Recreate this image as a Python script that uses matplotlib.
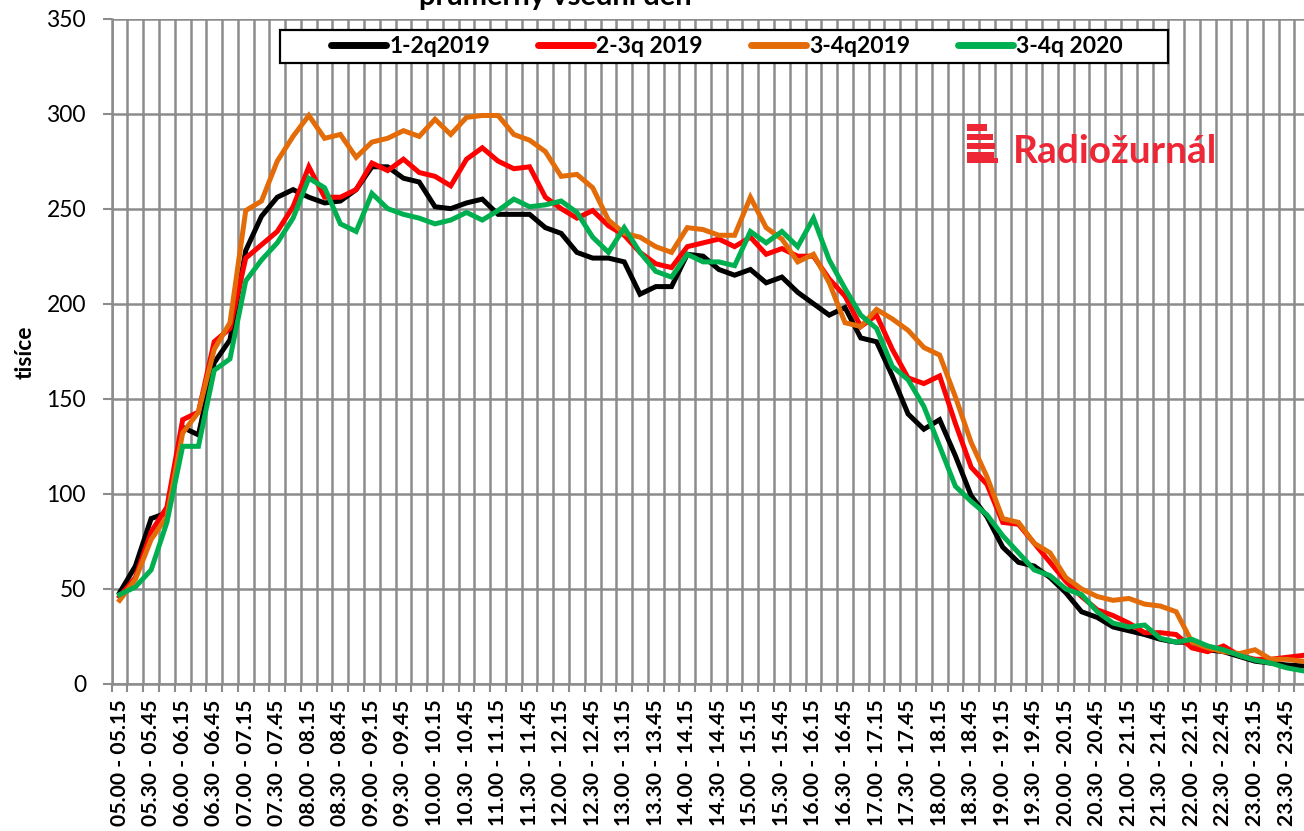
import numpy as np
import matplotlib
matplotlib.use("Agg")
import matplotlib.pyplot as plt
from matplotlib.patches import Rectangle

plt.rcParams['font.family'] = ['Lato', 'DejaVu Sans']

# ---- data ----
start_hours = list(range(5, 24))
slots = []
for h in start_hours:
    for m in (0, 15, 30, 45):
        eh, em = (h, m + 15) if m < 45 else (h + 1, 0)
        slots.append(f"{h:02d}.{m:02d} - {eh:02d}.{em:02d}")

series_names = ["1-2q2019", "2-3q 2019", "3-4q2019", "3-4q 2020"]
series_colors = ["#000000", "#FF0000", "#E36C09", "#00B050"]

q12_2019 = [48, 62, 87, 90, 135, 131, 169, 181, 228, 246, 256, 260, 256, 253, 254, 260,
            272, 272, 266, 264, 251, 250, 253, 255, 247, 247, 247, 240, 237, 227, 224, 224,
            222, 205, 209, 209, 226, 225, 218, 215, 218, 211, 214, 206, 200, 194, 198, 182,
            180, 162, 142, 134, 139, 120, 99, 88, 72, 64, 62, 56, 48, 38, 35, 30,
            28, 26, 23.5, 22, 22, 18, 17, 14.5, 12, 11, 10, 9.5]
q23_2019 = [46, 56, 80, 93, 139, 143, 180, 187, 224, 231, 238, 251, 272, 256, 256, 260,
            274, 270, 276, 269, 267, 262, 276, 282, 275, 271, 272, 256, 250, 245, 249, 241,
            236, 227, 221, 219, 230, 232, 234, 230, 235, 226, 229, 225, 225, 213, 204, 188,
            194, 176, 161, 158, 162, 137, 114, 105, 85, 84, 74, 64, 54, 46, 39, 36,
            32, 27, 27, 26, 19, 17, 20, 15, 13, 13, 14, 15]
q34_2019 = [44, 55, 76, 88, 132, 143, 176, 190, 249, 254, 275, 288, 299, 287, 289, 277,
            285, 287, 291, 288, 297, 289, 298, 299, 299, 289, 286, 280, 267, 268, 261, 244,
            237, 235, 230, 227, 240, 239, 236, 236, 256, 240, 234, 222, 226, 211, 190, 188,
            197, 192, 186, 177, 173, 151, 127, 109, 87, 85, 74, 69, 56, 50, 46, 44,
            45, 42, 41, 38, 22, 19, 17, 16, 18, 13, 13, 12]
q34_2020 = [47, 51, 60, 85, 125, 125, 165, 171, 212, 223, 232, 245, 266, 261, 242, 238,
            258, 250, 247, 245, 242, 244, 248, 244, 249, 255, 251, 252, 254, 248, 235, 227,
            240, 227, 217, 214, 226, 222, 222, 220, 238, 232, 238, 230, 245, 223, 208, 194,
            187, 167, 160, 146, 125, 104, 96, 89, 78, 69, 60, 57, 50, 47, 38, 32,
            30, 31, 24, 22, 23.5, 20, 18, 15, 12.5, 11, 8.5, 7]
all_series = [q12_2019, q23_2019, q34_2019, q34_2020]

y_ticks = [0, 50, 100, 150, 200, 250, 300, 350]

# ---- figure ----
W, H = 1304, 831
fig = plt.figure(figsize=(W / 100, H / 100), dpi=100)
ax_left, ax_right = 111.7, 111.7 + 76 * 15.77
ax_top, ax_bot = 18.5, 684.0
axw, axh = ax_right - ax_left, ax_bot - ax_top
ax = fig.add_axes([ax_left / W, 1 - ax_bot / H, axw / W, axh / H])


def px_to_axes(px, py):
    return (px - ax_left) / axw, (ax_bot - py) / axh


grid_col = "#8C8C8C"
x = np.arange(len(slots))
for vals, name, col in zip(all_series, series_names, series_colors):
    ax.plot(x, vals, color=col, lw=3.6, label=name, solid_joinstyle='miter', zorder=3)

ax.set_xlim(-0.5, len(slots) - 0.5)
ax.set_ylim(0, 350)
ax.set_yticks(y_ticks)
ax.set_yticklabels([str(v) for v in y_ticks], fontsize=16.5)

ax.set_xticks(x[::2])
ax.set_xticklabels(slots[::2], rotation=90, fontsize=15.2, fontweight='bold')
ax.set_xticks(np.arange(-0.5, len(slots), 1), minor=True)
ax.tick_params(axis='x', which='major', length=0, pad=11)
ax.tick_params(axis='x', which='minor', length=6, width=1.5, color=grid_col, direction='out')
ax.tick_params(axis='y', length=6.5, width=1.5, color=grid_col, pad=12)

ax.grid(axis='y', which='major', color=grid_col, lw=1.8)
ax.grid(axis='x', which='minor', color=grid_col, lw=1.8)
ax.set_axisbelow(True)
for s in ['top', 'right']:
    ax.spines[s].set_visible(False)
for s in ['left', 'bottom']:
    ax.spines[s].set_color(grid_col)
    ax.spines[s].set_linewidth(1.8)

ax.set_ylabel("tisíce", fontsize=16.5, fontweight='bold')
ax.yaxis.set_label_coords(*px_to_axes(36, 352))

# legend frame (drawn separately so its size matches the reference)
fx0, fy0 = px_to_axes(279.5, 62.7)
fx1, fy1 = px_to_axes(1168, 30)
ax.add_patch(Rectangle((fx0, fy0), fx1 - fx0, fy1 - fy0, transform=ax.transAxes,
                       facecolor='white', edgecolor='black', lw=1.6, zorder=4.5, clip_on=False))
fs_leg = 16.5
fs_px = fs_leg * 100 / 72
leg = ax.legend(loc='center', bbox_to_anchor=px_to_axes(727, 46.5), ncol=4,
                prop={'weight': 'bold', 'size': fs_leg}, frameon=False,
                handlelength=55 / fs_px, handletextpad=3 / fs_px, columnspacing=48 / fs_px,
                borderpad=0, borderaxespad=0)
leg.set_zorder(6)
for h in leg.get_lines():
    h.set_linewidth(5)
    h.set_solid_capstyle('round')

# title (cropped at top as in the reference)
fig.text(555 / W, 1 - 5 / H, "průměrný všední den", ha='center', va='baseline',
         fontsize=21, fontweight='bold')

# logo
logo_red = "#EE2737"
fig.text(1013 / W, 1 - 162.7 / H, "Radiožurnál", ha='left', va='baseline',
         fontsize=28, fontweight='bold', color=logo_red)
bar_specs = [(124, 7, 20), (134, 6, 26), (143, 6, 28), (152, 6, 27), (158, 5, 31)]
for yy, hh, ln in bar_specs:
    fig.patches.append(Rectangle((967 / W, 1 - (yy + hh) / H), ln / W, hh / H,
                                 transform=fig.transFigure, color=logo_red, lw=0))

fig.savefig("out.png", dpi=100)
